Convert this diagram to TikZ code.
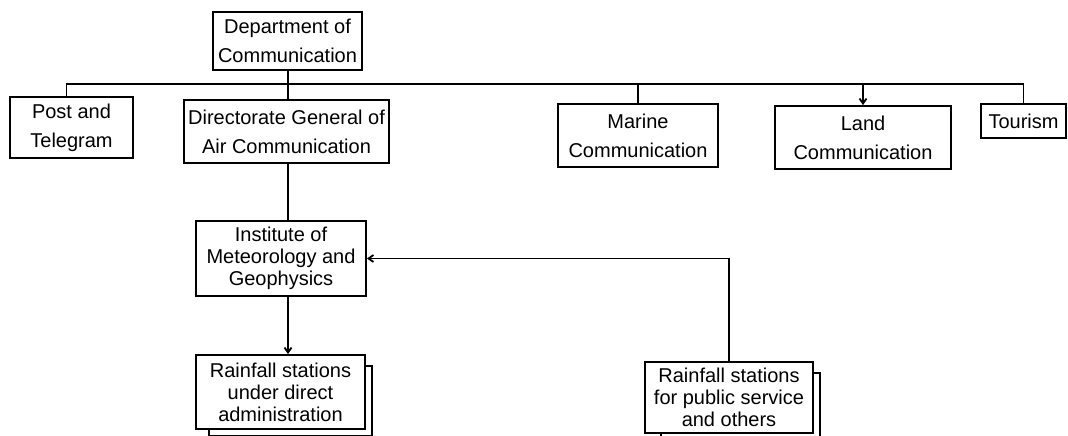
\documentclass[tikz,border=0pt]{standalone}
\usepackage{fontspec}
\setmainfont{Liberation Sans}
\usetikzlibrary{arrows.meta,positioning}

\begin{document}
\begin{tikzpicture}[x=1pt, y=-1pt, line width=1.8pt,
    unit/.style={draw, align=center, inner sep=2pt, font=\fontsize{20}{29}\selectfont},
    tight/.style={unit, font=\fontsize{20}{22}\selectfont},
    arr/.style={-{Straight Barb[length=5pt,width=7pt]}}]
        \useasboundingbox (0,0) rectangle (1068,436);

        \node[unit, minimum width=149pt, minimum height=58pt] (dept) at (287.5,41) {Department of\\Communication};
        \node[unit, minimum width=123pt, minimum height=61pt] (post) at (71.5,127.5) {Post and\\Telegram};
        \node[unit, minimum width=205pt, minimum height=63pt] (dir) at (286.5,131.5) {Directorate General of\\Air Communication};
        \node[unit, minimum width=160pt, minimum height=63pt] (marine) at (638,135.5) {Marine\\Communication};
        \node[unit, minimum width=176pt, minimum height=63pt] (land) at (863,137.5) {Land\\Communication};
        \node[unit, minimum width=85pt, minimum height=34pt] (tourism) at (1023.5,121) {Tourism};

        \node[tight, minimum width=170pt, minimum height=75pt] (inst) at (281,258.5) {Institute of\\Meteorology and\\Geophysics};
        \node[tight, minimum width=169pt, minimum height=74pt] (rain1) at (280.5,392) {Rainfall stations\\under direct\\administration};
        \node[tight, minimum width=168pt, minimum height=71pt] (rain2) at (729,397.5) {Rainfall stations\\for public service\\and others};

        % shadows behind the station boxes
        \draw ([xshift=14pt]rain1.south west) -- ++(0,6) -| ([xshift=6pt,yshift=-12pt]rain1.north east) -- ++(-6,0);
        \draw ([xshift=17pt]rain2.south west) -- ++(0,6) -| ([xshift=6pt,yshift=-12pt]rain2.north east) -- ++(-6,0);

        \coordinate (bus) at (0,84);
        \coordinate (trunk) at (288,0);
        \draw (dept.south -| trunk) -- (dir.north -| trunk);
        \draw ([xshift=-5pt]post.north) -- ([xshift=-5pt]post.north |- bus) -| (tourism.north);
        \draw (marine.north |- bus) -- (marine.north);
        \draw[arr] (land.north |- bus) -- (land.north);
        \draw (dir.south -| trunk) -- (inst.north -| trunk);
        \draw[arr] (inst.south -| trunk) -- (rain1.north -| trunk);
        \draw[arr] (rain2.north) |- (inst.east);
\end{tikzpicture}
\end{document}
